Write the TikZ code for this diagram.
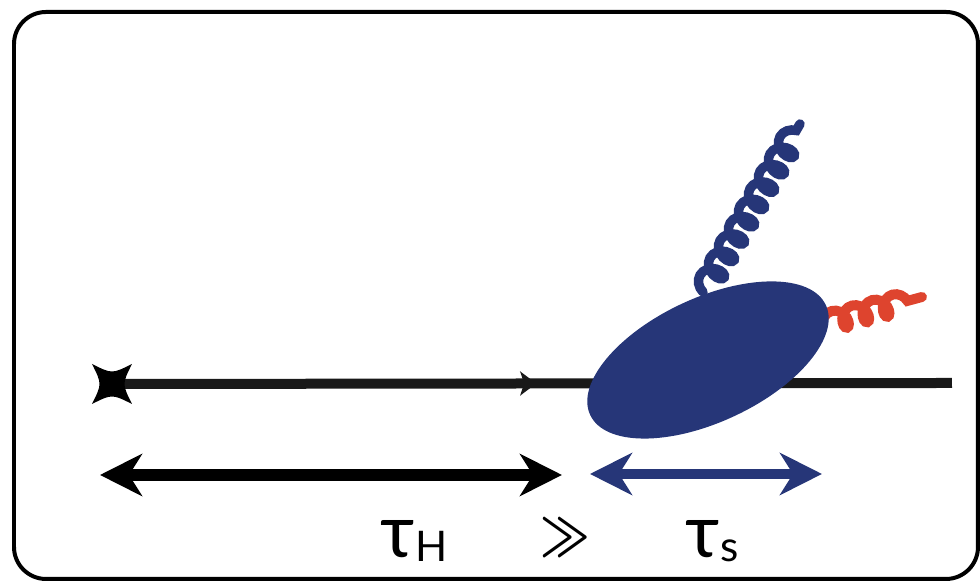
\documentclass[tikz,border=0pt]{standalone}
\usepackage{fontspec}
\setmainfont{Lato}
\usetikzlibrary{positioning,arrows.meta,shapes.geometric,decorations.pathmorphing,decorations.markings}

\definecolor{blobblue}{RGB}{38,54,120}
\definecolor{gluonred}{RGB}{222,68,46}

\begin{document}
\begin{tikzpicture}[
    axis/.style={line width=0.1cm, draw=black!90},
    span/.style={line width=0.12cm,
        {Stealth[length=0.42cm,width=0.42cm,inset=0.13cm]}-{Stealth[length=0.42cm,width=0.42cm,inset=0.13cm]}},
    blob/.style={ellipse, fill=blobblue, inner sep=0pt,
        minimum width=2.6cm, minimum height=1.24cm, rotate=25},
    gluon/.style={line width=0.095cm, line cap=round, decorate,
        decoration={coil, amplitude=0.11cm, segment length=0.2cm, aspect=0.75}},
    label/.style={inner sep=0pt, font=\fontsize{21}{21}\selectfont}
]
\useasboundingbox (0,0) rectangle (9.8,5.81);

% outer frame
\draw[line width=0.04cm, rounded corners=0.32cm] (0.14,0.02) rectangle (9.78,5.69);

% points the lines run between
\coordinate (src) at (1.12,1.97);
\coordinate (out) at (9.52,1.98);
\coordinate (q1)  at (7.03,2.89);
\coordinate (g1)  at (8.00,4.57);
\coordinate (q2)  at (8.22,2.57);
\coordinate (g2)  at (9.22,2.84);

% emitted gluons (behind the blob)
\draw[gluon, blobblue] (q1) -- (g1);
\draw[gluon, gluonred, line width=0.1cm,
    decoration={segment length=0.21cm, amplitude=0.1cm}] (q2) -- (g2);

% incoming line with the arrow in the middle
\draw[axis, postaction={decorate}, decoration={markings,
    mark=at position 0.505 with {\arrow{Stealth[length=0.16cm,width=0.24cm,inset=0.04cm]}}}]
    (src) -- (out);

% source vertex
\fill[shift={(src)}] (-0.2,0.2) .. controls (0,0.1) .. (0.2,0.2)
    .. controls (0.1,0) .. (0.2,-0.2)
    .. controls (0,-0.1) .. (-0.2,-0.2)
    .. controls (-0.1,0) .. cycle;

% soft blob
\node[blob] (blob) at (7.08,2.21) {};

% time scales
\coordinate (hL) at (1.00,1.06);
\coordinate (hR) at (5.62,1.06);
\coordinate (sL) at (5.90,1.07);
\coordinate (sR) at (8.22,1.07);
\draw[span] (hL) -- (hR);
\draw[span, blobblue, line width=0.1cm] (sL) -- (sR);

\node[label, anchor=base west] (tauH) at (3.80,0.23)
    {τ\raisebox{-1pt}{\fontsize{12}{12}\selectfont H}};
\node[inner sep=0pt] (gg) at (5.65,0.43)
    {\scalebox{0.85}[1.1]{\fontsize{14}{14}\selectfont\boldmath$\gg$}};
\node[label, anchor=base west] (taus) at (6.85,0.23)
    {τ\raisebox{-1pt}{\fontsize{12}{12}\selectfont s}};
\end{tikzpicture}
\end{document}
